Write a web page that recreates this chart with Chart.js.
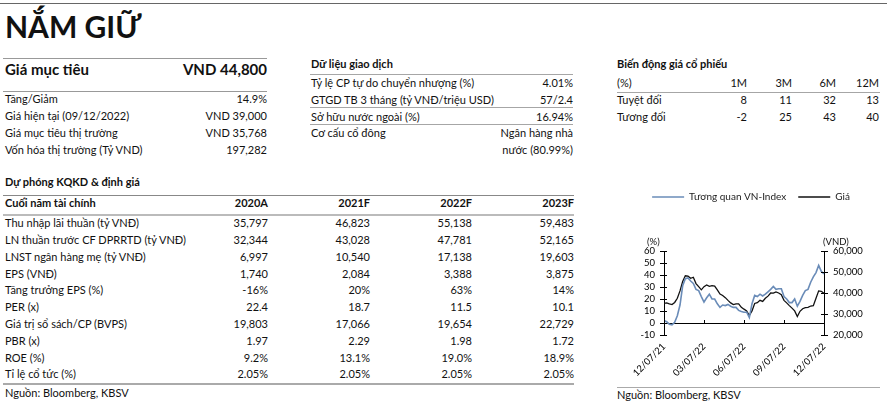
<!DOCTYPE html>
<html lang="vi">
<head>
<meta charset="utf-8">
<title>Nắm giữ</title>
<script src="https://cdn.jsdelivr.net/npm/chart.js@4.4.0/dist/chart.umd.min.js"></script>
<style>
  body { margin: 0; width: 887px; height: 405px; background: #fff; position: relative; overflow: hidden;
         font-family: Lato, "Liberation Sans", sans-serif; color: #111; }
  .t { position: absolute; white-space: nowrap; }
  .b { font-weight: bold; }
  .hr { position: absolute; height: 0; }
  #chartBox { position: absolute; left: 615px; top: 180px; width: 272px; height: 200px; }
</style>
</head>
<body>
<div id="chartBox"><canvas id="priceChart" width="272" height="200"></canvas></div>
<script>
// chart data (one point every ~2.7px)
const tickLabels = ["12/07/21", "03/07/22", "06/07/22", "09/07/22", "12/07/22"];
const tickIndex = [0, 15, 30, 45, 60];
const relVnIndex = [2, 1, -1, -1.5, 0.5, 6, 15, 31, 37, 37.5,
    35, 33, 28, 27, 22, 17.5, 21, 24, 20, 20,
    16, 13, 15, 14.5, 15.5, 14, 13, 13, 10.5, 9.5,
    9, 9, 4.5, 16, 23, 22, 24, 22.5, 24, 26,
    28, 30.5, 28, 28.5, 28.5, 22, 20, 17, 17, 20,
    14, 18, 23, 27, 28, 34, 38.5, 42, 48, 43, 41];
const price = [35100, 35300, 34800, 34500, 35500, 37500, 41000, 45500, 48200, 48000,
    47000, 47500, 44500, 43000, 41500, 43000, 43800, 43200, 43500, 43300,
    41500, 39500, 38800, 37800, 36500, 35300, 34500, 34800, 34800, 33200,
    32300, 31500, 29300, 31500, 35000, 35400, 36500, 36000, 37500, 38500,
    40000, 39900, 40500, 40000, 39200, 36500, 35300, 34000, 32800, 31500,
    28800, 31300, 32500, 33000, 33200, 33800, 34000, 37500, 41000, 40800, 39800];

// table texts
const summaryRows = [
    ["Tăng/Giảm", "14.9%"],
    ["Giá hiện tại (09/12/2022)", "VND 39,000"],
    ["Giá mục tiêu thị trường", "VND 35,768"],
    ["Vốn hóa thị trường (Tỷ VND)", "197,282"]
];
const tradingRows = [
    ["Tỷ lệ CP tự do chuyển nhượng (%)", "4.01%"],
    ["GTGD TB 3 tháng (tỷ VNĐ/triệu USD)", "57/2.4"],
    ["Sở hữu nước ngoài (%)", "16.94%"],
    ["Cơ cấu cổ đông", "Ngân hàng nhà"],
    ["", "nước (80.99%)"]
];
const perfHeads = ["1M", "3M", "6M", "12M"];
const perfRows = [
    ["Tuyệt đối", "8", "11", "32", "13"],
    ["Tương đối", "-2", "25", "43", "40"]
];
const forecastYears = ["2020A", "2021F", "2022F", "2023F"];
const forecastRows = [
    ["Thu nhập lãi thuần (tỷ VNĐ)", "35,797", "46,823", "55,138", "59,483"],
    ["LN thuần trước CF DPRRTD (tỷ VNĐ)", "32,344", "43,028", "47,781", "52,165"],
    ["LNST ngân hàng mẹ (tỷ VNĐ)", "6,997", "10,540", "17,138", "19,603"],
    ["EPS (VNĐ)", "1,740", "2,084", "3,388", "3,875"],
    ["Tăng trưởng EPS (%)", "-16%", "20%", "63%", "14%"],
    ["PER (x)", "22.4", "18.7", "11.5", "10.1"],
    ["Giá trị sổ sách/CP (BVPS)", "19,803", "17,066", "19,654", "22,729"],
    ["PBR (x)", "1.97", "2.29", "1.98", "1.72"],
    ["ROE (%)", "9.2%", "13.1%", "19.0%", "18.9%"],
    ["Tỉ lệ cổ tức (%)", "2.05%", "2.05%", "2.05%", "2.05%"]
];

// place a text by its baseline
function put(x, base, text, opts = {}) {
    const size = opts.size || 11;
    const el = document.createElement("div");
    el.className = "t" + (opts.bold ? " b" : "");
    el.style.fontSize = size + "px";
    el.style.lineHeight = (size * 1.2) + "px";
    el.style.top = (base - size * 0.987) + "px";
    if (opts.right) el.style.right = (887 - x) + "px";
    else el.style.left = x + "px";
    el.textContent = text;
    document.body.appendChild(el);
}
function hr(x1, x2, y, color, w) {
    const el = document.createElement("div");
    el.className = "hr";
    el.style.left = x1 + "px";
    el.style.width = (x2 - x1) + "px";
    el.style.top = y + "px";
    el.style.borderTop = (w || 1) + "px solid " + (color || "#a6a6a6");
    document.body.appendChild(el);
}

// header block
hr(0, 887, 3, "#666");
put(5, 38, "NẮM GIỮ", { size: 30, bold: true });
hr(3, 267, 58, "#999");
put(5, 75, "Giá mục tiêu", { size: 15, bold: true });
put(267, 75, "VND 44,800", { size: 15, bold: true, right: true });
hr(3, 267, 91, "#999");
summaryRows.forEach((r, i) => {
    put(5, 103 + i * 17, r[0]);
    put(267, 103 + i * 17, r[1], { right: true });
});

// trading data
put(311, 68, "Dữ liệu giao dịch", { bold: true });
hr(310, 573, 74);
const tradeBase = [87, 103.5, 120.5, 137, 154];
tradingRows.forEach((r, i) => {
    if (r[0]) put(311, tradeBase[i], r[0]);
    put(573, tradeBase[i], r[1], { right: true });
});
hr(310, 573, 107);
hr(310, 573, 124);

// price performance
put(617, 68, "Biến động giá cổ phiếu", { bold: true });
const perfX = [747, 792, 836, 879];
put(617, 87, "(%)");
perfHeads.forEach((h, j) => put(perfX[j], 87, h, { right: true }));
hr(617, 880, 92);
perfRows.forEach((r, i) => {
    put(617, 103.5 + i * 17, r[0]);
    r.slice(1).forEach((v, j) => put(perfX[j], 103.5 + i * 17, v, { right: true }));
});

// forecast table
put(5, 186, "Dự phóng KQKD & định giá", { bold: true });
hr(3, 574, 195, "#888");
const colX = [268, 370, 472, 574];
put(5, 207, "Cuối năm tài chính", { bold: true });
forecastYears.forEach((y, j) => put(colX[j], 207, y, { bold: true, right: true }));
hr(3, 574, 214, "#bbb", 2);
forecastRows.forEach((r, i) => {
    const base = 227 + i * 16.8;
    put(5, base, r[0]);
    r.slice(1).forEach((v, j) => put(colX[j], base, v, { right: true }));
});
hr(3, 574, 383, "#aaa", 2);
put(5, 397, "Nguồn: Bloomberg, KBSV");

// chart side
put(647, 245, "(%)", { size: 9.5 });
put(823, 245, "(VND)", { size: 9.5 });
hr(617, 880, 387, "#aaa");
put(617, 399, "Nguồn: Bloomberg, KBSV");

// extra room under the legend
const legendSpace = {
    id: "legendSpace",
    beforeInit(chart) {
        const fit = chart.legend.fit;
        chart.legend.fit = function () { fit.call(this); this.height = 71; };
    }
};
// small tick marks across the axes and on the zero line
const axisMarks = {
    id: "axisMarks",
    afterDraw(chart) {
        const { ctx, scales: { x, y, y1 } } = chart;
        ctx.save();
        ctx.strokeStyle = "#000";
        ctx.lineWidth = 1;
        ctx.beginPath();
        y.ticks.forEach(t => {
            const py = Math.round(y.getPixelForValue(t.value)) + 0.5;
            ctx.moveTo(y.right, py); ctx.lineTo(y.right + 3, py);
        });
        y1.ticks.forEach(t => {
            const py = Math.round(y1.getPixelForValue(t.value)) + 0.5;
            ctx.moveTo(y1.left - 3, py); ctx.lineTo(y1.left, py);
        });
        const y0 = y.getPixelForValue(0);
        x.ticks.forEach(t => {
            const px = Math.round(x.getPixelForValue(t.value)) + 0.5;
            ctx.moveTo(px, y0); ctx.lineTo(px, y0 - 3);
        });
        ctx.stroke();
        ctx.restore();
    }
};

const font = { family: "Lato, 'Liberation Sans', sans-serif", size: 9.5 };
new Chart(document.getElementById("priceChart"), {
    type: "line",
    data: {
        datasets: [{
            label: "Tương quan VN-Index",
            data: relVnIndex.map((v, i) => ({ x: i, y: v })),
            borderColor: "#6a8cb8",
            borderWidth: 1.6,
            yAxisID: "y"
        }, {
            label: "Giá",
            data: price.map((v, i) => ({ x: i, y: v })),
            borderColor: "#111",
            borderWidth: 1.3,
            yAxisID: "y1"
        }]
    },
    options: {
        responsive: false,
        animation: false,
        elements: { point: { radius: 0 }, line: { tension: 0 } },
        layout: { padding: 0 },
        plugins: {
            legend: {
                labels: {
                    font: { family: font.family, size: 10 }, color: "#222", usePointStyle: true,
                    pointStyle: "line", pointStyleWidth: 32, padding: 12
                }
            },
            tooltip: { enabled: false }
        },
        scales: {
            x: {
                type: "linear", min: 0, max: 60,
                afterBuildTicks: s => { s.ticks = tickIndex.map(v => ({ value: v })); },
                afterFit: s => { s.height = 45; },
                ticks: {
                    callback: v => tickLabels[tickIndex.indexOf(v)],
                    autoSkip: false, maxRotation: 45, minRotation: 45,
                    font: font, color: "#000", padding: 6
                },
                grid: { display: false, drawTicks: false },
                border: { display: false }
            },
            y: {
                position: "left", min: -10, max: 60,
                afterFit: s => { s.width = 49; },
                ticks: { stepSize: 10, autoSkip: false, font: font, color: "#000", padding: 5 },
                grid: {
                    color: c => (c.tick && c.tick.value === 0 ? "#000" : "rgba(0,0,0,0)"),
                    tickColor: "#000", tickLength: 4
                },
                border: { color: "#000" }
            },
            y1: {
                position: "right", min: 20000, max: 60000,
                afterFit: s => { s.width = 63; },
                ticks: {
                    stepSize: 10000, autoSkip: false, font: font, color: "#000", padding: 5,
                    callback: v => v.toLocaleString("en-US")
                },
                grid: { drawOnChartArea: false, tickColor: "#000", tickLength: 4 },
                border: { color: "#000" }
            }
        }
    },
    plugins: [legendSpace, axisMarks]
});
</script>
</body>
</html>
